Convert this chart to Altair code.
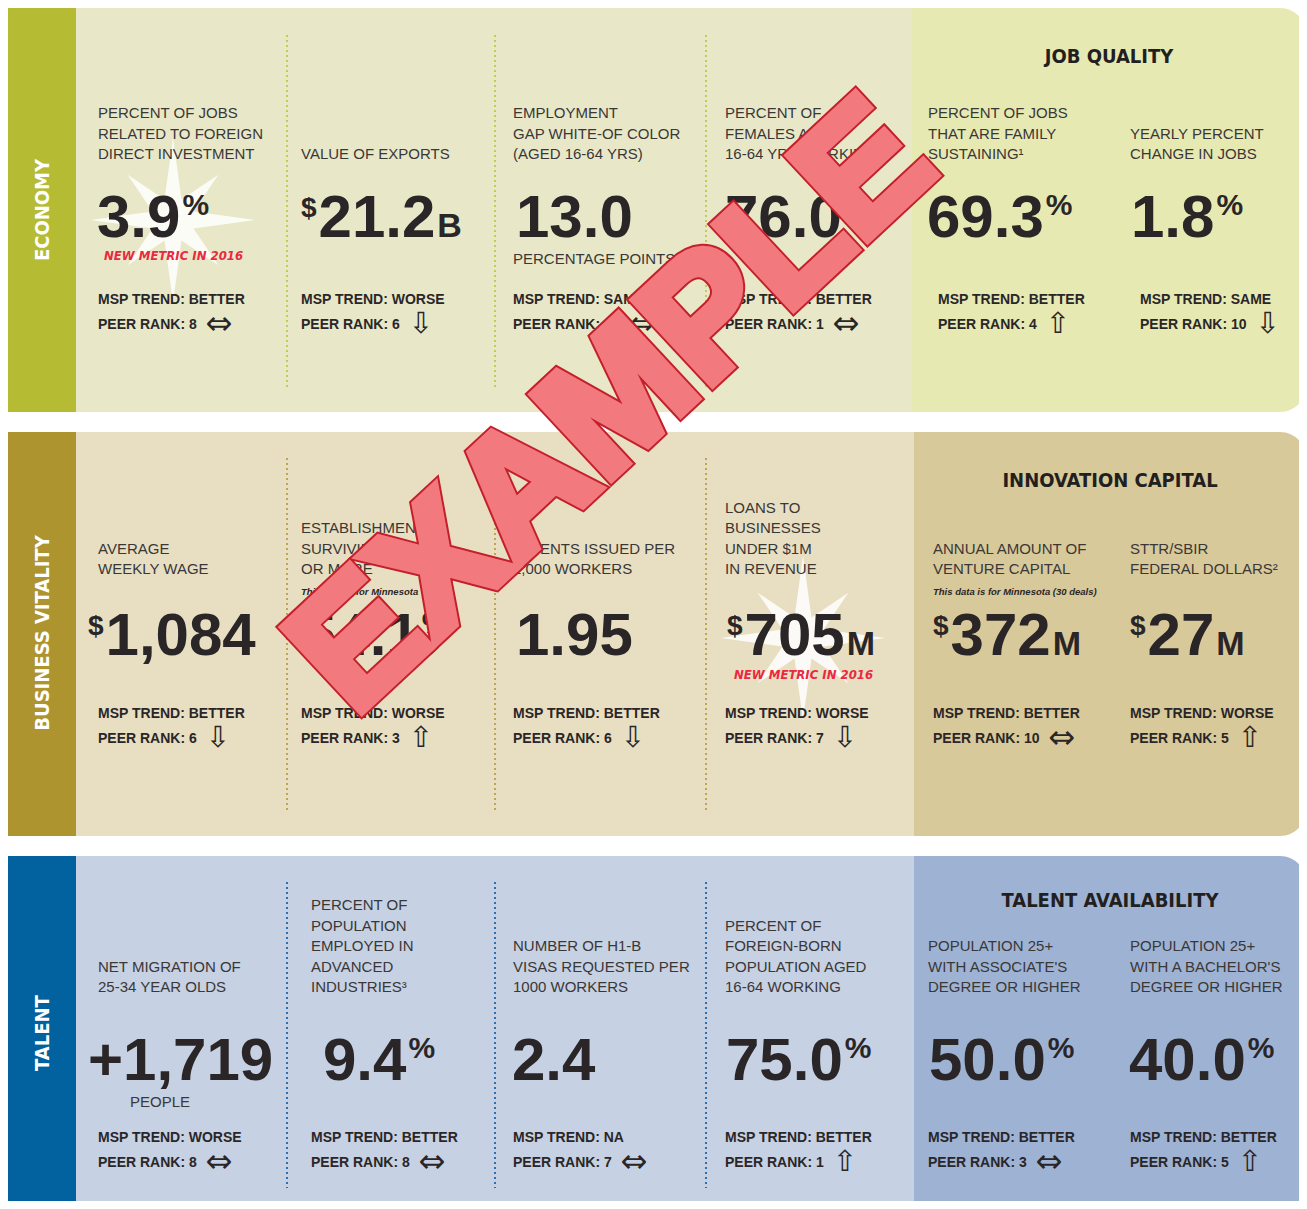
import math
import altair as alt
import pandas as pd

# ------------------------------------------------------------------ data
section_names = ["ECONOMY", "BUSINESS VITALITY", "TALENT"]
panel_titles = ["JOB QUALITY", "INNOVATION CAPITAL", "TALENT AVAILABILITY"]

economy_labels = [
    "PERCENT OF JOBS\nRELATED TO FOREIGN\nDIRECT INVESTMENT",
    "VALUE OF EXPORTS",
    "EMPLOYMENT\nGAP WHITE-OF COLOR\n(AGED 16-64 YRS)",
    "PERCENT OF\nFEMALES AGED\n16-64 YRS WORKING",
    "PERCENT OF JOBS\nTHAT ARE FAMILY\nSUSTAINING¹",
    "YEARLY PERCENT\nCHANGE IN JOBS",
]
business_labels = [
    "AVERAGE\nWEEKLY WAGE",
    "ESTABLISHMENTS\nSURVIVING 5 YEARS\nOR MORE",
    "PATENTS ISSUED PER\n1,000 WORKERS",
    "LOANS TO\nBUSINESSES\nUNDER $1M\nIN REVENUE",
    "ANNUAL AMOUNT OF\nVENTURE CAPITAL",
    "STTR/SBIR\nFEDERAL DOLLARS²",
]
talent_labels = [
    "NET MIGRATION OF\n25-34 YEAR OLDS",
    "PERCENT OF\nPOPULATION\nEMPLOYED IN\nADVANCED\nINDUSTRIES³",
    "NUMBER OF H1-B\nVISAS REQUESTED PER\n1000 WORKERS",
    "PERCENT OF\nFOREIGN-BORN\nPOPULATION AGED\n16-64 WORKING",
    "POPULATION 25+\nWITH ASSOCIATE'S\nDEGREE OR HIGHER",
    "POPULATION 25+\nWITH A BACHELOR'S\nDEGREE OR HIGHER",
]

economy_prefix = ["", "$", "", "", "", ""]
economy_values = ["3.9", "21.2", "13.0", "76.0", "69.3", "1.8"]
economy_suffix = ["%", "B", "", "%", "%", "%"]
business_prefix = ["$", "", "", "$", "$", "$"]
business_values = ["1,084", "54.1", "1.95", "705", "372", "27"]
business_suffix = ["", "%", "", "M", "M", "M"]
talent_prefix = ["", "", "", "", "", ""]
talent_values = ["+1,719", "9.4", "2.4", "75.0", "50.0", "40.0"]
talent_suffix = ["", "%", "", "%", "%", "%"]

economy_trend = ["BETTER", "WORSE", "SAME", "BETTER", "BETTER", "SAME"]
business_trend = ["BETTER", "WORSE", "BETTER", "WORSE", "BETTER", "WORSE"]
talent_trend = ["WORSE", "BETTER", "NA", "BETTER", "BETTER", "BETTER"]
economy_rank = [8, 6, 11, 1, 4, 10]
business_rank = [6, 3, 6, 7, 10, 5]
talent_rank = [8, 8, 7, 1, 3, 5]
economy_arrow = ["same", "down", "same", "same", "up", "down"]
business_arrow = ["down", "up", "down", "down", "same", "up"]
talent_arrow = ["same", "same", "same", "up", "same", "up"]

new_metric_cells = [(0, 0), (1, 3)]
new_metric_text = "NEW METRIC IN 2016"
notes_below = [(0, 2, "PERCENTAGE POINTS"), (2, 0, "PEOPLE")]
notes_above = [(1, 1, "This data is for Minnesota"),
               (1, 4, "This data is for Minnesota (30 deals)")]
watermark_text = "EXAMPLE"

labels = [economy_labels, business_labels, talent_labels]
prefixes = [economy_prefix, business_prefix, talent_prefix]
values = [economy_values, business_values, talent_values]
suffixes = [economy_suffix, business_suffix, talent_suffix]
trends = [economy_trend, business_trend, talent_trend]
ranks = [economy_rank, business_rank, talent_rank]
arrows = [economy_arrow, business_arrow, talent_arrow]

# ------------------------------------------------------------------ layout / style
STRIP_COL = ["#B5BC34", "#AE942F", "#02629F"]
LIGHT_COL = ["#E8E8C9", "#E8DFC2", "#C6D1E3"]
PANEL_COL = ["#E7E9B3", "#D8C99A", "#9EB3D3"]
SEP_COL = ["#C3CA55", "#BCA556", "#2E6EAD"]
BAND_TOP = [8, 432, 856]
BAND_BOT = [412, 836, 1216]
STRIP_X = (8, 76)
PANEL_X = [912, 914, 914]
RIGHT_X = 1306
SEP_X = [287, 495, 706]
SEP_Y = [(35, 387), (458, 810), (882, 1188)]
LABEL_X = [[98, 301, 513, 725, 928, 1130], [98, 301, 513, 725, 933, 1130], [98, 311, 513, 725, 928, 1130]]
VALUE_X = [[97, 301, 516, 725, 927, 1131], [88, 303, 516, 727, 933, 1130], [88, 323, 512, 726, 929, 1129]]
TREND_X = [[98, 301, 513, 725, 938, 1140], [98, 301, 513, 725, 933, 1130], [98, 311, 513, 725, 928, 1130]]
LABEL_LAST_Y = [154, 569, 987]
VALUE_BASE_Y = [237, 655, 1080]
NOTE_Y = [257, 676, 1102]
TREND_Y = [300, 714, 1138]
PEER_Y = [325, 739, 1163]
TITLE_Y = [57, 481, 901]
STRIP_LABEL_Y = [210, 633, 1033]
LINE_H = 20.5
BIG = 60
DARK = "#2A2627"
LABEL_COL = "#3A3737"
NARROW = "Liberation Sans Narrow, DejaVu Sans Condensed, Arial Narrow, sans-serif"
SANS = "Liberation Sans, Arial, sans-serif"
ARROW_SIZE = {"same": 32, "up": 29, "down": 29}
ARROW_GLYPH = {"same": "⇔", "up": "⇧", "down": "⇩"}

W = {' ': .278, ':': .333, '.': .278, ',': .278, '+': .584, '$': .556, '%': .889}
for d in "0123456789":
    W[d] = .556
W.update(dict(A=.722, B=.722, C=.722, D=.722, E=.667, F=.611, G=.778, H=.722, I=.278,
              J=.556, K=.722, L=.611, M=.833, N=.722, O=.778, P=.667, Q=.778, R=.722,
              S=.667, T=.611, U=.722, V=.667, W=.944, X=.667, Y=.667, Z=.611))


def tw(s, fs):
    return sum(W.get(ch, .6) for ch in s) * fs


def star_path(n=8, inner=0.27, diag=0.78):
    pts = []
    for i in range(2 * n):
        ang = math.pi * i / n
        if i % 2 == 0:
            r = 1.0 if (i // 2) % 2 == 0 else diag
        else:
            r = inner
        pts.append((r * math.cos(ang), -r * math.sin(ang)))
    return "M" + " L".join(f"{x:.3f},{y:.3f}" for x, y in pts) + " Z"


# ------------------------------------------------------------------ tables
rect_rows = []
for b in range(3):
    rect_rows.append(dict(x=STRIP_X[0], x2=STRIP_X[1], y=BAND_TOP[b], y2=BAND_BOT[b], c=STRIP_COL[b]))
    rect_rows.append(dict(x=STRIP_X[1], x2=PANEL_X[b], y=BAND_TOP[b], y2=BAND_BOT[b], c=LIGHT_COL[b]))
panel_rows = [dict(x=PANEL_X[b], x2=RIGHT_X, y=BAND_TOP[b], y2=BAND_BOT[b], c=PANEL_COL[b]) for b in range(3)]
sep_rows = [dict(x=sx, y=SEP_Y[b][0], y2=SEP_Y[b][1], c=SEP_COL[b]) for b in range(3) for sx in SEP_X]

star_rows = [dict(x=VALUE_X[b][c] + 76, y=VALUE_BASE_Y[b] - 17) for b, c in new_metric_cells]

label_rows, main_rows, pct_rows, cur_rows, unit_rows = [], [], [], [], []
trend_rows, arrow_rows = [], []
for b in range(3):
    for c in range(6):
        lines = labels[b][c].split("\n")
        n = len(lines)
        for i, ln in enumerate(lines):
            label_rows.append(dict(x=LABEL_X[b][c], y=LABEL_LAST_Y[b] - (n - 1 - i) * LINE_H, text=ln))
        x0 = VALUE_X[b][c]
        base = VALUE_BASE_Y[b]
        if prefixes[b][c]:
            cur_rows.append(dict(x=x0, y=base - 20, text=prefixes[b][c]))
            x0 += tw(prefixes[b][c], 28) + 2
        main_rows.append(dict(x=x0, y=base, text=values[b][c]))
        xe = x0 + tw(values[b][c], BIG) + 2
        if suffixes[b][c] == "%":
            pct_rows.append(dict(x=xe, y=base - 22, text="%"))
        elif suffixes[b][c]:
            unit_rows.append(dict(x=xe, y=base, text=suffixes[b][c]))
        tx = TREND_X[b][c]
        trend_rows.append(dict(x=tx, y=TREND_Y[b], text=f"MSP TREND: {trends[b][c]}"))
        peer = f"PEER RANK: {ranks[b][c]}"
        trend_rows.append(dict(x=tx, y=PEER_Y[b], text=peer))
        a = arrows[b][c]
        arrow_rows.append(dict(x=tx + tw(peer, 14) + 9, y=PEER_Y[b] - 1,
                               text=ARROW_GLYPH[a], fs=ARROW_SIZE[a]))

red_rows = [dict(x=VALUE_X[b][c] + 7, y=NOTE_Y[b] - 1, text=new_metric_text) for b, c in new_metric_cells]
below_left, below_center = [], []
for b, c, t in notes_below:
    if t == "PEOPLE":
        below_center.append(dict(x=VALUE_X[b][c] + 72, y=NOTE_Y[b], text=t))
    else:
        below_left.append(dict(x=LABEL_X[b][c], y=NOTE_Y[b] + 2, text=t))
above_rows = [dict(x=LABEL_X[b][c], y=LABEL_LAST_Y[b] + 23, text=t) for b, c, t in notes_above]
title_rows = [dict(x=(PANEL_X[b] + RIGHT_X) / 2, y=TITLE_Y[b], text=panel_titles[b]) for b in range(3)]
strip_rows = [dict(x=(STRIP_X[0] + STRIP_X[1]) / 2 + 1, y=STRIP_LABEL_Y[b], text=section_names[b]) for b in range(3)]
wm_rows = [dict(x=613, y=408, text=watermark_text)]

# ------------------------------------------------------------------ chart
XS = alt.Scale(domain=[8, 1299], nice=False, zero=False)
YS = alt.Scale(domain=[8, 1201], nice=False, zero=False, reverse=True)
X = alt.X("x:Q", scale=XS, axis=None)
Y = alt.Y("y:Q", scale=YS, axis=None)


def texts(rows, **kw):
    return alt.Chart(pd.DataFrame(rows)).mark_text(**kw).encode(x=X, y=Y, text="text:N")


rects = alt.Chart(pd.DataFrame(rect_rows)).mark_rect(clip=True).encode(
    x=X, x2="x2:Q", y=Y, y2="y2:Q", color=alt.Color("c:N", scale=None))
panels = alt.Chart(pd.DataFrame(panel_rows)).mark_rect(
    clip=True, cornerRadiusTopRight=26, cornerRadiusBottomRight=26).encode(
    x=X, x2="x2:Q", y=Y, y2="y2:Q", color=alt.Color("c:N", scale=None))
seps = alt.Chart(pd.DataFrame(sep_rows)).mark_rule(strokeDash=[2, 3], strokeWidth=2).encode(
    x=X, y=Y, y2="y2:Q", color=alt.Color("c:N", scale=None))
stars = alt.Chart(pd.DataFrame(star_rows)).mark_point(
    shape=star_path(), filled=True, size=27000, color="white", opacity=0.85, strokeWidth=0).encode(x=X, y=Y)
arrow_layer = alt.Chart(pd.DataFrame(arrow_rows)).mark_text(
    align="left", baseline="middle", font="DejaVu Sans", color=DARK).encode(
    x=X, y=Y, text="text:N", size=alt.Size("fs:Q", scale=None))

WM = dict(align="center", baseline="middle", angle=317, font=SANS, fontSize=166, fontWeight="bold")

layers = [
    rects, panels, seps, stars,
    texts(label_rows, align="left", baseline="middle", font=SANS, fontSize=15, color=LABEL_COL),
    texts(main_rows, align="left", baseline="alphabetic", font=SANS, fontSize=BIG, fontWeight="bold", color=DARK),
    texts(cur_rows, align="left", baseline="alphabetic", font=SANS, fontSize=28, fontWeight="bold", color=DARK),
    texts(pct_rows, align="left", baseline="alphabetic", font=SANS, fontSize=30, fontWeight="bold", color=DARK),
    texts(unit_rows, align="left", baseline="alphabetic", font=SANS, fontSize=34, fontWeight="bold", color=DARK),
    texts(trend_rows, align="left", baseline="middle", font=SANS, fontSize=14, fontWeight="bold", color=DARK),
    arrow_layer,
    texts(red_rows, align="left", baseline="middle", font=NARROW, fontSize=13, fontWeight="bold",
          fontStyle="italic", color="#EA2840"),
    texts(below_left, align="left", baseline="middle", font=SANS, fontSize=15, color=LABEL_COL),
    texts(below_center, align="center", baseline="middle", font=SANS, fontSize=15, color=LABEL_COL),
    texts(above_rows, align="left", baseline="middle", font=SANS, fontSize=9.5, fontWeight="bold",
          fontStyle="italic", color=DARK),
    texts(title_rows, align="center", baseline="middle", font=NARROW, fontSize=20, fontWeight="bold", color="#231F20"),
    texts(strip_rows, align="center", baseline="middle", angle=270, font=NARROW, fontSize=20,
          fontWeight="bold", color="white"),
    # watermark: dark outline, then thick fill on top
    texts(wm_rows, color="#C41F2B", stroke="#C41F2B", strokeWidth=13, strokeJoin="miter", **WM),
    texts(wm_rows, color="#F27A7E", stroke="#F27A7E", strokeWidth=9, strokeJoin="miter", **WM),
]

chart = alt.layer(*layers).properties(
    width=1291, height=1193,
    autosize=alt.AutoSizeParams(type="fit", contains="padding"),
    padding=0,
    background="white",
).configure_view(stroke=None)

chart.save("out.html", embed_options={"renderer": "svg", "actions": False})
